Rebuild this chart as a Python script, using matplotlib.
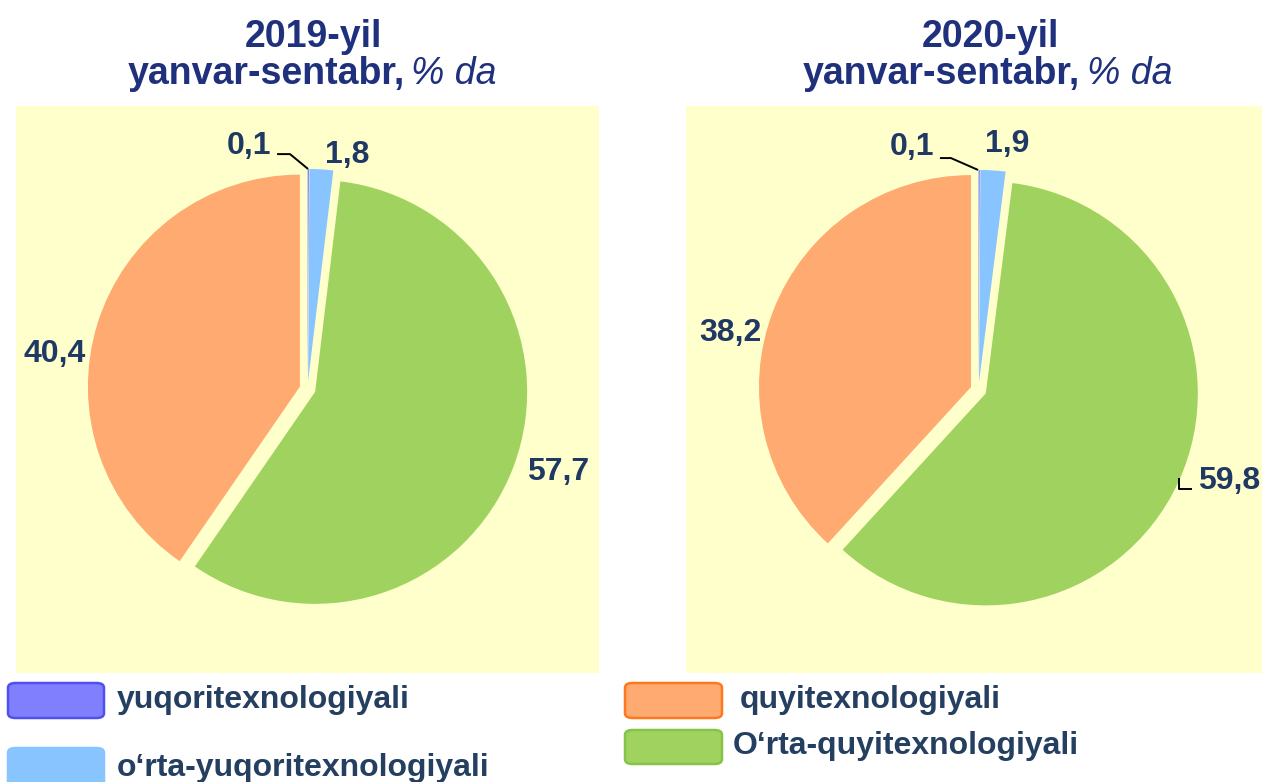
import matplotlib.pyplot as plt
from matplotlib import patches

plt.rcParams['font.family'] = ['Liberation Sans', 'DejaVu Sans']

W, H = 1262, 782

# data
years = ["2019-yil", "2020-yil"]
categories = ["yuqoritexnologiyali", "o‘rta-yuqoritexnologiyali",
              "O‘rta-quyitexnologiyali", "quyitexnologiyali"]
values_2019 = [0.1, 1.8, 57.7, 40.4]
values_2020 = [0.1, 1.9, 59.8, 38.2]

colors = ["#8080FF", "#88C4FF", "#A0D25F", "#FFAA70"]
edge_colors = ["#5050F0", "#88C4FF", "#86C447", "#FF7820"]
title_color = "#1F307D"
label_color = "#1F3864"
legend_color = "#243F60"
panel_color = "#FFFFCC"


def fx(x):
    return x / W


def fy(y):
    return 1 - y / H


fig = plt.figure(figsize=(W / 100, H / 100), dpi=100)

# panel boxes in pixels (left, top, right, bottom) and pie centre
panels = [(16, 106, 599, 673, 307.6, 389), (686, 106, 1262, 673, 978.5, 390)]
R = 212.0

# label positions (data units, pie radius = 1)
label_pos = [
    [(-0.276, 1.146), (0.186, 1.104), (1.181, -0.392), (-1.191, 0.165)],
    [(-0.314, 1.146), (0.134, 1.160), (1.184, -0.429), (-1.172, 0.269)],
]
leaders = [
    [[(-0.144, 1.108), (-0.083, 1.108), (0.002, 1.038)]],
    [[(-0.182, 1.094), (-0.130, 1.094), (-0.002, 1.038)],
     [(0.946, -0.415), (0.946, -0.467), (1.007, -0.467)]],
]
title_x = [(313, 405, 411), (990, 1080, 1087)]

for i, vals in enumerate([values_2019, values_2020]):
    l, t, r, b, cx, cy = panels[i]
    ax = fig.add_axes([fx(l), fy(b), (r - l) / W, (b - t) / H])
    ax.pie(vals, colors=colors, startangle=90, counterclock=False,
           explode=[0.038] * 4, wedgeprops=dict(linewidth=0))
    ax.set_frame_on(True)
    ax.set_facecolor(panel_color)
    for s in ax.spines.values():
        s.set_visible(False)
    ax.set_xticks([])
    ax.set_yticks([])
    ax.set_aspect('auto')
    ax.set_xlim((l - cx) / R, (r - cx) / R)
    ax.set_ylim((cy - b) / R, (cy - t) / R)

    for v, (x, y) in zip(vals, label_pos[i]):
        ax.text(x, y, f"{v:.1f}".replace('.', ','), ha='center', va='center',
                fontsize=23, fontweight='bold', color=label_color)
    for line in leaders[i]:
        ax.plot([p[0] for p in line], [p[1] for p in line], color='black',
                lw=1.4, solid_capstyle='butt')

    # titles
    tx, bx, ix = title_x[i]
    fig.text(fx(tx), fy(47), years[i], ha='center', va='baseline',
             fontsize=27, fontweight='bold', color=title_color)
    fig.text(fx(bx), fy(84), "yanvar-sentabr,", ha='right', va='baseline',
             fontsize=27, fontweight='bold', color=title_color)
    fig.text(fx(ix), fy(84), "% da", ha='left', va='baseline',
             fontsize=27, fontstyle='italic', color=title_color)

# legend (boxes in pixels: left, top, right, bottom; text x, text y)
legend_items = [
    (0, (8, 683, 104, 718), 117, 700, categories[0]),
    (1, (8, 748, 104, 790), 117, 768, categories[1]),
    (3, (625, 683, 722, 718), 740, 700, categories[3]),
    (2, (625, 730, 722, 764), 733, 746, categories[2]),
]
for k, (l, t, r, b), tx, ty, name in legend_items:
    box = patches.FancyBboxPatch((fx(l), fy(b)), (r - l) / W, (b - t) / H,
                                 boxstyle="round,pad=0,rounding_size=0.006",
                                 facecolor=colors[k], edgecolor=edge_colors[k],
                                 lw=1.8, transform=fig.transFigure, figure=fig)
    fig.patches.append(box)
    fig.text(fx(tx), fy(ty), name, ha='left', va='center', fontsize=23,
             fontweight='bold', color=legend_color)

fig.savefig("out.png", dpi=100)
